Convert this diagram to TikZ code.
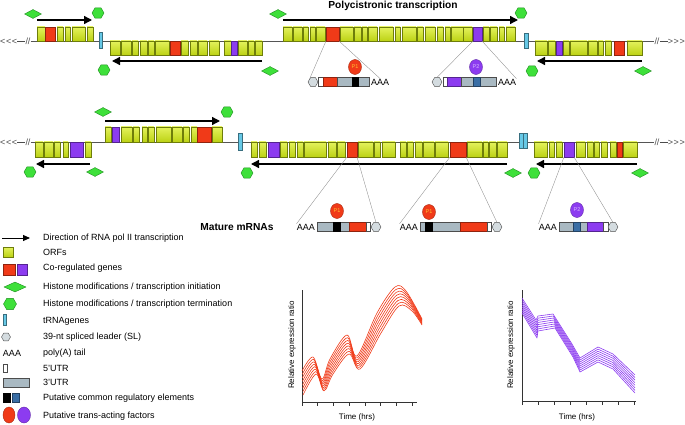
\documentclass[tikz,border=0pt]{standalone}
\usepackage{fontspec}
\setmainfont{Liberation Sans}
\usetikzlibrary{arrows.meta, shapes.geometric, positioning}
\definecolor{corf}{HTML}{BCD214}
\definecolor{corfhi}{HTML}{E4F25C}
\definecolor{corfdk}{HTML}{6E7D0A}
\definecolor{cred}{HTML}{F03A18}
\definecolor{cpurple}{HTML}{8C3CF0}
\definecolor{cgreen}{HTML}{3EE03A}
\definecolor{cgreendk}{HTML}{1E8C1E}
\definecolor{ctrna}{HTML}{66C8E6}
\definecolor{cutr}{HTML}{A9B9C2}
\definecolor{cblue}{HTML}{3A6EA5}
\definecolor{cline}{HTML}{555555}
\definecolor{czoom}{HTML}{8C8C8C}
\definecolor{csl}{HTML}{D4DCE0}
\definecolor{cyellow}{HTML}{FFC030}
\definecolor{clav}{HTML}{D9B8FF}
\tikzset{
  every picture/.style={x=1pt, y=-1pt, font=\fontsize{9}{10.5}\selectfont},
  orf/.style={draw=corfdk, line width=0.4pt, top color=corfhi, bottom color=corf},
  gene/.style={draw=#1!60!black, fill=#1, line width=0.4pt, inner sep=0pt, outer sep=0pt},
  trna/.style={draw=ctrna!55!black, fill=ctrna, line width=0.4pt},
  dna/.style={draw=cline, line width=0.8pt},
  txarrow/.style={-{Triangle[length=8pt, width=8pt]}, line width=1.4pt, draw=black},
  init/.style={diamond, draw=cgreendk, fill=cgreen, minimum width=17, minimum height=9, inner sep=0pt, line width=0.4pt},
  term/.style={regular polygon, regular polygon sides=6, draw=cgreendk, fill=cgreen, minimum size=12, inner sep=0pt, line width=0.4pt},
  sl/.style={regular polygon, regular polygon sides=6, draw=black!70, fill=csl, minimum size=10, inner sep=0pt, line width=0.4pt},
  utr5/.style={draw=black!70, fill=white, line width=0.4pt},
  utr3/.style={draw=black!70, fill=cutr, line width=0.4pt},
  aaa/.style={inner sep=0pt},
  factor/.style={ellipse, draw=#1!70!black, fill=#1, minimum width=13, minimum height=15, inner sep=0pt, font=\fontsize{5.5}{6}\selectfont},
  zoomline/.style={draw=czoom, line width=0.35pt},
  title/.style={font=\fontsize{10.2}{12}\bfseries\selectfont},
  legtext/.style={anchor=west, inner sep=0pt},
  axis/.style={draw=black!80, line width=0.6pt},
  curve/.style={draw=#1, line width=0.6pt, line join=round},
  axlabel/.style={font=\fontsize{8}{9}\selectfont, inner sep=0pt},
  ends/.style={text=black!70, inner sep=0pt},
}
\newcommand{\orfs}[3]{\foreach \a/\b in {#3} {\draw[orf] (\a,#1) rectangle (\b,#2);}}
\newcommand{\lend}{<\kern.6pt<\kern.6pt<\rule[2.6pt]{8pt}{0.5pt}\kern.5pt/\kern-.3pt/}
\newcommand{\rend}{/\kern-.3pt/\kern.5pt\rule[2.6pt]{8pt}{0.5pt}>\kern.6pt>\kern.6pt>}

\begin{document}
\begin{tikzpicture}
  \useasboundingbox (0,0) rectangle (685,425);
  \node[title] (poly) at (393,6) {Polycistronic transcription};
  % row 1
  \node[ends, anchor=west] (lend1) at (0,41) {\lend};
  \node[ends, anchor=east] (rend1) at (685,41) {\rend};
  \draw[dna] (lend1) -- (rend1);
  \orfs{27}{41}{37/45, 57/63, 65/70, 72/85, 87/93}
  \draw[gene=cred] (45,27) rectangle (55,41);
  \orfs{41}{55}{110/120, 121/131, 132/138, 140/147, 148/154, 155/169, 181/188, 190/197, 198/207, 209/219, 224/231, 238/247, 248/254, 255/262}
  \draw[gene=cred] (170,41) rectangle (180,55);
  \draw[gene=cpurple] (231,41) rectangle (237,55);
  \orfs{27}{41}{283/292, 293/302, 303/308, 310/315, 316/325, 340/353, 354/361, 362/367, 368/377, 379/393, 395/400, 402/416, 417/423, 425/435, 437/443, 445/450, 451/463, 463/472, 483/489, 490/497, 499/504, 506/515}
  \node[gene=cred, minimum width=13, minimum height=14, anchor=north west] (g1) at (326,27) {};
  \node[gene=cpurple, minimum width=9, minimum height=14, anchor=north west] (g2) at (473,27) {};
  \orfs{41}{55}{535/547, 548/555, 563/569, 570/587, 588/597, 598/603, 605/611, 627/642}
  \draw[gene=cpurple] (556,41) rectangle (562,55);
  \draw[gene=cred] (614,41) rectangle (624,55);
  \draw[trna] (99,32) rectangle (102,48);
  \draw[trna] (524,33) rectangle (528,48);
  \draw[txarrow] (37,20) -- (92,20);
  \draw[txarrow] (262,61) -- (112,61);
  \draw[txarrow] (283,20) -- (518,20);
  \draw[txarrow] (642,61) -- (537,61);
  % row 2
  \node[ends, anchor=west] (lend2) at (0,142) {\lend};
  \node[ends, anchor=east] (rend2) at (685,142) {\rend};
  \draw[dna] (lend2) -- (rend2);
  \orfs{142}{157}{35/43, 44/53, 54/60, 63/68, 85/91}
  \draw[gene=cpurple] (70,142) rectangle (83,157);
  \orfs{127}{142}{105/111, 121/132, 133/139, 142/147, 148/154, 156/171, 172/182, 183/189, 191/197, 212/222}
  \draw[gene=cpurple] (112,127) rectangle (119,142);
  \draw[gene=cred] (197,127) rectangle (211,142);
  \orfs{142}{157}{251/257, 259/266, 280/287, 289/295, 297/303, 304/326, 328/336, 337/345, 358/373, 374/380, 382/395, 400/406, 407/413, 415/422, 423/434, 435/448, 467/482, 483/488, 489/496, 497/507}
  \draw[gene=cpurple] (268,142) rectangle (279,157);
  \node[gene=cred, minimum width=10, minimum height=15, anchor=north west] (g3) at (347,142) {};
  \node[gene=cred, minimum width=16, minimum height=15, anchor=north west] (g4) at (450,142) {};
  \orfs{142}{157}{534/547, 549/554, 556/562, 576/585, 587/593, 594/599, 601/607, 610/616, 623/637}
  \node[gene=cpurple, minimum width=10, minimum height=15, anchor=north west] (g5) at (564,142) {};
  \draw[gene=cred] (617,142) rectangle (622,157);
  \draw[trna] (238,133) rectangle (242,150);
  \draw[trna] (519,133) rectangle (523,148);
  \draw[trna] (523,133) rectangle (527,148);
  \draw[txarrow] (105,121) -- (220,121);
  \draw[txarrow] (90,164) -- (36,164);
  \draw[txarrow] (507,164) -- (251,164);
  \draw[txarrow] (637,164) -- (536,164);
  % histone marks
  \foreach \p [count=\i] in {(33,14), (278,14), (270,71), (643,71), (103,112), (95,172), (513,173), (640,173)}
    \node[init] (ini\i) at \p {};
  \foreach \p [count=\i] in {(98,13), (104,70), (521,13), (532,71), (227,112), (30,172), (247,173), (534,173)}
    \node[term] (ter\i) at \p {};
  % transcripts, row 1
  \node[sl] (sl1) at (313,82) {};
  \draw[utr5] (318,77.5) rectangle (323,86.5);
  \draw[gene=cred] (323,77.5) rectangle (337,86.5);
  \draw[utr3] (337,77.5) rectangle (369,86.5);
  \draw[gene=black] (352,77.5) rectangle (358,86.5);
  \node[aaa, anchor=west] (aaa1) at (371,82) {AAA};
  \node[factor=cred, text=cyellow] (fp1) at (355,67) {P1};
  \draw[zoomline] (g1.south west) -- (sl1.north west);
  \draw[zoomline] (g1.south east) -- (aaa1.north);
  \node[sl] (sl2) at (437,82) {};
  \draw[utr5] (443,77.5) rectangle (447,86.5);
  \draw[gene=cpurple] (447,77.5) rectangle (461,86.5);
  \draw[utr3] (461,77.5) rectangle (496,86.5);
  \draw[gene=cblue] (473,77.5) rectangle (480,86.5);
  \node[aaa, anchor=west] (aaa2) at (498,82) {AAA};
  \node[factor=cpurple, text=clav] (fp2) at (476,67) {P2};
  \draw[zoomline] (g2.south west) -- (sl2.north);
  \draw[zoomline] (g2.south east) -- (aaa2.north east);
  % transcripts, row 2
  \node[title, anchor=east] (mature) at (277,227) {Mature mRNAs};
  \node[aaa, anchor=east] (aaa3) at (315,227) {AAA};
  \draw[utr3] (317,222.5) rectangle (349,231.5);
  \draw[gene=black] (333,222.5) rectangle (340,231.5);
  \draw[gene=cred] (349,222.5) rectangle (366,231.5);
  \draw[utr5] (366,222.5) rectangle (370,231.5);
  \node[sl] (sl3) at (376,227) {};
  \node[factor=cred, text=cyellow] (fp3) at (337,211) {P1};
  \draw[zoomline] (g3.south west) -- (aaa3.north west);
  \draw[zoomline] (g3.south east) -- (sl3.north);
  \node[aaa, anchor=east] (aaa4) at (418,227) {AAA};
  \draw[utr3] (420,222.5) rectangle (460,231.5);
  \draw[gene=black] (425,222.5) rectangle (432,231.5);
  \draw[gene=cred] (460,222.5) rectangle (487,231.5);
  \draw[utr5] (487,222.5) rectangle (491,231.5);
  \node[sl] (sl4) at (497,227) {};
  \node[factor=cred, text=cyellow] (fp4) at (429,212) {P1};
  \draw[zoomline] (g4.south west) -- (aaa4.north west);
  \draw[zoomline] (g4.south east) -- (sl4.north);
  \node[aaa, anchor=east] (aaa5) at (557,227) {AAA};
  \draw[utr3] (559,222.5) rectangle (587,231.5);
  \draw[gene=cblue] (573,222.5) rectangle (580,231.5);
  \draw[gene=cpurple] (587,222.5) rectangle (603,231.5);
  \draw[utr5] (603,222.5) rectangle (608,231.5);
  \node[sl] (sl5) at (613,227) {};
  \node[factor=cpurple, text=clav] (fp5) at (577,210) {P2};
  \draw[zoomline] (g5.south west) -- (aaa5.north west);
  \draw[zoomline] (g5.south east) -- (sl5.north);
  % legend
  \foreach \y/\t [count=\i] in {238/{Direction of RNA pol II transcription}, 252/{ORFs}, 268/{Co-regulated genes},
      287/{Histone modifications / transcription initiation}, 304/{Histone modifications / transcription termination},
      321/{tRNAgenes}, 337/{39-nt spliced leader (SL)}, 353/{poly(A) tail}, 368/{5'UTR}, 382/{3'UTR},
      398/{Putative common regulatory elements}, 416/{Putative trans-acting factors}}
    \node[legtext] (leg\i) at (43,\y) {\t};
  \draw[-{Triangle[length=7pt, width=6pt]}, line width=0.9pt] (2,238) -- (30,238);
  \draw[orf] (3,247) rectangle (13,257);
  \draw[gene=cred] (3,264) rectangle (15,275);
  \draw[gene=cpurple] (17,264) rectangle (27,275);
  \node[init, minimum width=22, minimum height=10] (kini) at (15,287) {};
  \node[term, minimum size=13] (kter) at (10,304) {};
  \draw[trna] (3,314) rectangle (6,325);
  \node[sl, minimum size=9] (ksl) at (6,337) {};
  \node[aaa] (kaaa) at (12,353) {AAA};
  \draw[utr5] (3,364) rectangle (7,372);
  \draw[utr3] (3,378) rectangle (29,387);
  \draw[gene=black] (3,393) rectangle (10,402);
  \draw[gene=cblue] (12,393) rectangle (19,402);
  \node[factor=cred, minimum width=12, minimum height=16] (kp1) at (9,415) {};
  \node[factor=cpurple, minimum width=13, minimum height=16] (kp2) at (24,415) {};
  % expression profiles, P1 genes
  \coordinate (ro) at (302,402);
  \draw[axis] (302,290) -- (ro) -- (417,402);
  \foreach \k in {0,...,7} \draw[axis] (302+15.7*\k,402) -- ++(0,4);
  \node[axlabel, rotate=90] (ryl) at (292,345) {Relative expression ratio};
  \node[axlabel] (rxl) at (357,417) {Time (hrs)};
  \foreach \i in {0,...,7} {
    \pgfmathsetmacro\t{\i/7}
    \draw[curve=cred] plot[smooth, tension=0.55] coordinates {({302+1*\t},{371+24*\t}) ({313+3*\t},{357+17*\t}) ({322+2*\t},{379+12*\t})
      ({330+3*\t},{359+15*\t}) ({347+2*\t},{335+19*\t}) ({357+3*\t},{356+13*\t}) ({377+4*\t},{313+20*\t})
      ({395+4*\t},{287+19*\t}) ({406+6*\t},{291+20*\t}) ({422},{319+6*\t})};
  }
  % expression profiles, P2 genes
  \coordinate (po) at (522,401);
  \draw[axis] (522,290) -- (po) -- (636,401);
  \foreach \k in {0,...,7} \draw[axis] (522+16*\k,401) -- ++(0,4);
  \node[axlabel, rotate=90] (pyl) at (511,345) {Relative expression ratio};
  \node[axlabel] (pxl) at (577,417) {Time (hrs)};
  \foreach \i in {0,...,7} {
    \pgfmathsetmacro\t{\i/7}
    \draw[curve=cpurple] plot coordinates {({522},{298+15*\t}) ({536+1*\t},{320+18*\t}) ({538},{316+15*\t})
      ({553+2*\t},{314+14*\t}) ({572+1*\t},{344+13*\t}) ({580},{358+14*\t}) ({598},{347+15*\t})
      ({613},{354+15*\t}) ({635},{375+18*\t})};
  }
\end{tikzpicture}
\end{document}
